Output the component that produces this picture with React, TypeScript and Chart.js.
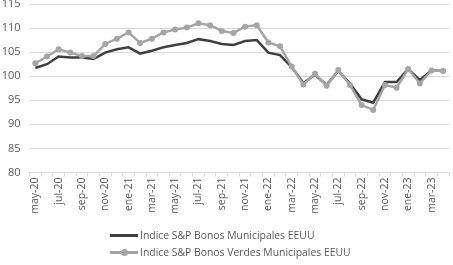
import React, { useEffect, useRef } from "react";
import { Chart, registerables } from "chart.js";

Chart.register(...registerables);

const months = [
  "may-20", "jun-20", "jul-20", "ago-20", "sep-20", "oct-20", "nov-20", "dic-20",
  "ene-21", "feb-21", "mar-21", "abr-21", "may-21", "jun-21", "jul-21", "ago-21",
  "sep-21", "oct-21", "nov-21", "dic-21", "ene-22", "feb-22", "mar-22", "abr-22",
  "may-22", "jun-22", "jul-22", "ago-22", "sep-22", "oct-22", "nov-22", "dic-22",
  "ene-23", "feb-23", "mar-23", "abr-23",
];

const municipales = [
  101.7, 102.5, 104.1, 103.9, 103.9, 103.6, 104.9, 105.6, 106.0, 104.7, 105.3, 106.0,
  106.5, 106.9, 107.7, 107.3, 106.7, 106.5, 107.3, 107.5, 104.9, 104.4, 101.9, 98.6,
  100.3, 98.2, 101.1, 98.5, 95.2, 94.5, 98.8, 98.8, 101.5, 99.2, 101.2, 101.1,
];

const verdes = [
  102.7, 104.1, 105.6, 104.9, 104.2, 104.2, 106.7, 107.8, 109.1, 106.9, 107.8, 109.1,
  109.7, 110.1, 111.0, 110.6, 109.4, 109.0, 110.3, 110.6, 107.0, 106.2, 102.0, 98.3,
  100.5, 98.0, 101.3, 98.2, 94.0, 93.0, 98.2, 97.6, 101.5, 98.5, 101.2, 101.1,
];

const seriesNames = [
  "Indice S&P Bonos Municipales EEUU",
  "Indice S&P Bonos Verdes Municipales EEUU",
];

const yMin = 80;
const yMax = 115;
const yStep = 5;

const DARK = "#404040";
const GRAY = "#a5a5a5";
const FONT = "'Open Sans', sans-serif";

export default function App() {
  const ref = useRef<HTMLCanvasElement>(null);

  useEffect(() => {
    document.body.style.margin = "0";
    const ctx = ref.current!;
    const chart = new Chart(ctx, {
      type: "line",
      data: {
        labels: months,
        datasets: [
          {
            label: seriesNames[0],
            data: municipales,
            borderColor: DARK,
            backgroundColor: DARK,
            borderWidth: 2.5,
            pointRadius: 0,
            tension: 0,
            order: 2,
          },
          {
            label: seriesNames[1],
            data: verdes,
            borderColor: GRAY,
            backgroundColor: GRAY,
            borderWidth: 2.5,
            pointRadius: 3,
            pointBorderWidth: 0,
            pointBackgroundColor: GRAY,
            tension: 0,
            order: 1,
          },
        ],
      },
      options: {
        responsive: false,
        animation: false,
        layout: { padding: { top: 4, right: 1, bottom: 52, left: 0 } },
        plugins: { legend: { display: false }, tooltip: { enabled: false } },
        scales: {
          x: {
            offset: true,
            grid: {
              display: true,
              offset: true,
              drawOnChartArea: false,
              drawTicks: true,
              tickLength: 4,
              color: "#d9d9d9",
            },
            border: { display: true, color: "#d9d9d9" },
            ticks: {
              autoSkip: false,
              maxRotation: 90,
              minRotation: 90,
              padding: 1,
              color: "#595959",
              font: { family: FONT, size: 10.5 },
              callback: (_v, i) => (i % 2 === 0 ? months[i] : ""),
            },
            afterFit: (s: any) => {
              s.height = 40.5;
              s.paddingLeft = 0;
              s.paddingRight = 0;
            },
          },
          y: {
            min: yMin,
            max: yMax,
            ticks: {
              stepSize: yStep,
              padding: 9,
              color: "#595959",
              font: { family: FONT, size: 11 },
            },
            grid: { color: "#d9d9d9", drawTicks: false },
            border: { display: false },
            afterFit: (s: any) => {
              s.width = 29.5;
              s.paddingTop = 0;
              s.paddingBottom = 0;
            },
          },
        },
      },
    });
    return () => chart.destroy();
  }, []);

  const textStyle: React.CSSProperties = {
    fontFamily: FONT,
    fontSize: 10.4,
    color: "#595959",
    whiteSpace: "nowrap",
    marginLeft: 2,
  };

  return (
    <div style={{ position: "relative", width: 453, height: 265, overflow: "hidden" }}>
      <canvas ref={ref} width={453} height={265} style={{ display: "block" }} />
      <div style={{ position: "absolute", left: 110, top: 228, display: "flex", alignItems: "center", height: 14 }}>
        <div style={{ width: 28, height: 3, background: DARK }} />
        <span style={textStyle}>{seriesNames[0]}</span>
      </div>
      <div style={{ position: "absolute", left: 110, top: 245, display: "flex", alignItems: "center", height: 14 }}>
        <div style={{ position: "relative", width: 28, height: 3, background: GRAY }}>
          <div style={{ position: "absolute", left: 10.5, top: -2, width: 7, height: 7, borderRadius: "50%", background: GRAY }} />
        </div>
        <span style={textStyle}>{seriesNames[1]}</span>
      </div>
    </div>
  );
}
